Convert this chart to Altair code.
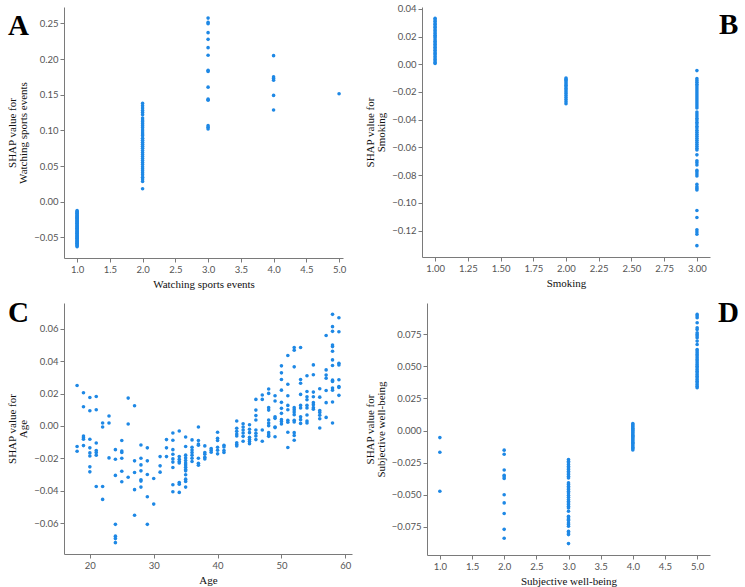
import altair as alt
import pandas as pd

BLUE = "#1E88E5"

# ---- A: Watching sports events (level -> SHAP values) ----
watch_1 = [-0.0126, -0.0138, -0.0151, -0.0161, -0.0172, -0.0186, -0.0197, -0.0208,
           -0.0220, -0.0231, -0.0243, -0.0256, -0.0266, -0.0278, -0.0291, -0.0302,
           -0.0313, -0.0326, -0.0337, -0.0348, -0.0361, -0.0372, -0.0384, -0.0395,
           -0.0408, -0.0419, -0.0431, -0.0442, -0.0455, -0.0466, -0.0477, -0.0490,
           -0.0501, -0.0513, -0.0524, -0.0537, -0.0548, -0.0559, -0.0571, -0.0584,
           -0.0595, -0.0606, -0.0618, -0.0633]
watch_2 = [0.1378, 0.1345, 0.1313, 0.1280, 0.1252, 0.1220, 0.1173, 0.1145, 0.1122,
           0.1094, 0.1066, 0.1038, 0.1005, 0.0978, 0.0950, 0.0926, 0.0889, 0.0861,
           0.0833, 0.0805, 0.0777, 0.0749, 0.0717, 0.0689, 0.0661, 0.0633, 0.0605,
           0.0577, 0.0549, 0.0521, 0.0489, 0.0461, 0.0433, 0.0405, 0.0377, 0.0344,
           0.0317, 0.0284, 0.0182]
watch_3 = [0.2574, 0.2514, 0.2495, 0.2370, 0.2276, 0.2160, 0.2053, 0.1843, 0.1825,
           0.1606, 0.1438, 0.1424, 0.1066, 0.1043, 0.1020]
watch_4 = [0.2048, 0.1750, 0.1727, 0.1704, 0.1490, 0.1285]
watch_5 = [0.1513]

# ---- B: Smoking ----
smoke_1 = [0.0331, 0.0321, 0.0310, 0.0298, 0.0288, 0.0276, 0.0266, 0.0254, 0.0243,
           0.0233, 0.0221, 0.0210, 0.0199, 0.0189, 0.0177, 0.0166, 0.0155, 0.0145,
           0.0133, 0.0122, 0.0111, 0.0101, 0.0089, 0.0078, 0.0068, 0.0056, 0.0045,
           0.0034, 0.0024, 0.0012, 0.0005]
smoke_2 = [-0.0099, -0.0108, -0.0118, -0.0129, -0.0140, -0.0152, -0.0163, -0.0175,
           -0.0186, -0.0199, -0.0212, -0.0226, -0.0240, -0.0255, -0.0270, -0.0285]
smoke_3 = [-0.0046, -0.0104, -0.0118, -0.0130, -0.0145, -0.0157, -0.0171, -0.0186,
           -0.0200, -0.0215, -0.0229, -0.0244, -0.0258, -0.0273, -0.0287, -0.0302,
           -0.0316, -0.0345, -0.0360, -0.0374, -0.0389, -0.0403, -0.0418, -0.0432,
           -0.0447, -0.0461, -0.0476, -0.0490, -0.0505, -0.0519, -0.0534, -0.0548,
           -0.0563, -0.0577, -0.0592, -0.0606, -0.0618, -0.0654, -0.0696, -0.0710,
           -0.0727, -0.0766, -0.0778, -0.0792, -0.0807, -0.0867, -0.0884, -0.0896,
           -0.0908, -0.1055, -0.1106, -0.1195, -0.1210, -0.1227, -0.1309]

# ---- C: Age ----
age_shap = {
    18: [0.0250, -0.0127, -0.0156],
    19: [0.0205, 0.0119, -0.0062, -0.0072, -0.0082, -0.0121],
    20: [0.0176, 0.0094, -0.0082, -0.0135, -0.0166, -0.0185, -0.0252, -0.0283],
    21: [0.0182, 0.0100, -0.0105, -0.0152, -0.0164, -0.0180, -0.0373],
    22: [0.0018, -0.0006, -0.0373, -0.0453],
    23: [0.0062, 0.0018, -0.0197],
    24: [-0.0146, -0.0205, -0.0305, -0.0607, -0.0680, -0.0695, -0.0720],
    25: [-0.0090, -0.0154, -0.0164, -0.0199, -0.0279, -0.0344],
    26: [0.0172, 0.0012, -0.0316],
    27: [0.0125, -0.0215, -0.0287, -0.0393, -0.0551],
    28: [-0.0117, -0.0199, -0.0240, -0.0277, -0.0332, -0.0340, -0.0377],
    29: [-0.0135, -0.0215, -0.0299, -0.0437, -0.0607],
    30: [-0.0324, -0.0482],
    31: [-0.0189, -0.0246, -0.0285],
    32: [-0.0084, -0.0135, -0.0189],
    33: [-0.0043, -0.0088, -0.0146, -0.0174, -0.0203, -0.0223, -0.0256, -0.0363, -0.0406],
    34: [-0.0031, -0.0189, -0.0205, -0.0219, -0.0228, -0.0349, -0.0359, -0.0410],
    35: [-0.0068, -0.0127, -0.0180, -0.0197, -0.0213, -0.0228, -0.0240, -0.0254,
         -0.0269, -0.0277, -0.0301, -0.0328, -0.0342, -0.0377],
    36: [-0.0086, -0.0131, -0.0148, -0.0164, -0.0180, -0.0199, -0.0219],
    37: [-0.0006, -0.0090, -0.0111, -0.0119, -0.0199, -0.0230, -0.0242],
    38: [-0.0123, -0.0164, -0.0174, -0.0193, -0.0203],
    39: [-0.0139, -0.0150, -0.0162],
    40: [-0.0039, -0.0076, -0.0090, -0.0131, -0.0150, -0.0172],
    41: [-0.0119, -0.0129, -0.0152, -0.0164],
    43: [0.0031, -0.0014, -0.0033, -0.0049, -0.0062, -0.0103, -0.0115, -0.0123],
    44: [0.0014, -0.0006, -0.0025, -0.0043, -0.0064, -0.0094],
    45: [0.0008, -0.0020, -0.0041, -0.0070, -0.0084, -0.0096, -0.0109],
    46: [0.0164, 0.0098, 0.0064, 0.0037, -0.0025, -0.0045, -0.0062, -0.0084],
    47: [0.0191, 0.0164, -0.0025, -0.0094],
    48: [0.0228, 0.0201, 0.0113, 0.0098, 0.0037, 0.0018, 0.0002, -0.0041, -0.0055, -0.0064],
    49: [0.0187, 0.0154, 0.0057, 0.0047, -0.0006, -0.0010, -0.0066],
    50: [0.0371, 0.0328, 0.0287, 0.0221, 0.0146, 0.0109, 0.0078, 0.0039, 0.0027, 0.0012],
    51: [0.0435, 0.0258, 0.0187, 0.0127, 0.0100, 0.0035, 0.0023, -0.0039, -0.0133],
    52: [0.0484, 0.0467, 0.0365, 0.0113, 0.0100, 0.0086, 0.0070, 0.0035, 0.0025,
         -0.0041, -0.0059, -0.0088],
    53: [0.0484, 0.0287, 0.0264, 0.0195, 0.0127, 0.0111, 0.0057, 0.0039, 0.0016],
    54: [0.0310, 0.0213, 0.0180, 0.0162, 0.0127, 0.0111, 0.0068, 0.0031, 0.0018],
    55: [0.0377, 0.0316, 0.0209, 0.0180, 0.0144, 0.0131, 0.0113, 0.0103],
    56: [0.0230, 0.0178, 0.0096, 0.0084, 0.0066, 0.0045, -0.0012],
    57: [0.0558, 0.0346, 0.0314, 0.0295, 0.0219, 0.0144, 0.0053],
    58: [0.0689, 0.0613, 0.0584, 0.0500, 0.0490, 0.0461, 0.0408, 0.0373, 0.0283,
         0.0275, 0.0234, 0.0221, 0.0148, 0.0018],
    59: [0.0668, 0.0582, 0.0387, 0.0377, 0.0285, 0.0244, 0.0238, 0.0189],
}

# ---- D: Subjective well-being ----
wellbeing_1 = [-0.0055, -0.0169, -0.0473]
wellbeing_2 = [-0.0153, -0.0185, -0.0307, -0.0348, -0.0361, -0.0374, -0.0500,
               -0.0564, -0.0647, -0.0770, -0.0840]
wellbeing_3 = [-0.0226, -0.0239, -0.0252, -0.0265, -0.0278, -0.0291, -0.0304, -0.0317,
               -0.0330, -0.0343, -0.0356, -0.0369, -0.0408, -0.0421, -0.0434, -0.0447,
               -0.0460, -0.0473, -0.0486, -0.0504, -0.0520, -0.0538, -0.0551, -0.0564,
               -0.0577, -0.0590, -0.0603, -0.0629, -0.0668, -0.0681, -0.0694, -0.0702,
               -0.0720, -0.0733, -0.0746, -0.0785, -0.0798, -0.0811, -0.0881]
wellbeing_4 = [0.0055, 0.0045, 0.0036, 0.0027, 0.0018, 0.0009, 0.0000, -0.0009,
               -0.0018, -0.0027, -0.0036, -0.0045, -0.0055, -0.0064, -0.0073, -0.0082,
               -0.0091, -0.0100, -0.0110, -0.0120, -0.0130, -0.0140, -0.0151]
wellbeing_5 = [0.0905, 0.0892, 0.0879, 0.0840, 0.0801, 0.0788, 0.0762, 0.0749, 0.0736,
               0.0723, 0.0697, 0.0671, 0.0632, 0.0619, 0.0606, 0.0593, 0.0580, 0.0567,
               0.0554, 0.0541, 0.0528, 0.0515, 0.0502, 0.0489, 0.0476, 0.0463, 0.0450,
               0.0437, 0.0424, 0.0411, 0.0398, 0.0385, 0.0372, 0.0359, 0.0346, 0.0333]


def to_frame(groups):
    rows = [{"x": k, "y": v} for k, vals in groups.items() for v in vals]
    return pd.DataFrame(rows)


df_a = to_frame({1: watch_1, 2: watch_2, 3: watch_3, 4: watch_4, 5: watch_5})
df_b = to_frame({1: smoke_1, 2: smoke_2, 3: smoke_3})
df_c = to_frame(age_shap)
df_d = to_frame({1: wellbeing_1, 2: wellbeing_2, 3: wellbeing_3,
                 4: wellbeing_4, 5: wellbeing_5})


def panel(df, xtitle, ytitle, xdom, ydom, xticks, xfmt, yticks, yfmt,
          w, h, letter, lx, ly):
    dots = alt.Chart(df).mark_circle(size=13, color=BLUE, opacity=1).encode(
        x=alt.X("x:Q", scale=alt.Scale(domain=xdom, nice=False, zero=False),
                axis=alt.Axis(values=xticks, format=xfmt, title=xtitle)),
        y=alt.Y("y:Q", scale=alt.Scale(domain=ydom, nice=False, zero=False),
                axis=alt.Axis(values=yticks, format=yfmt, title=ytitle)),
    )
    tag = alt.Chart(pd.DataFrame({"t": [letter]})).mark_text(
        font="Liberation Serif", fontWeight="bold", fontSize=29,
        align="left", baseline="alphabetic", color="black",
    ).encode(text="t:N", x=alt.value(lx), y=alt.value(ly))
    return alt.layer(dots, tag).properties(width=w, height=h)


pa = panel(df_a, "Watching sports events", ["SHAP value for", "Watching sports events"],
           [0.8, 5.06], [-0.079, 0.273], [1.0, 1.5, 2.0, 2.5, 3.0, 3.5, 4.0, 4.5, 5.0], ".1f",
           [-0.05, 0.0, 0.05, 0.10, 0.15, 0.20, 0.25], ".2f", 279, 251, "A", -56, 28)
pb = panel(df_b, "Smoking", ["SHAP value for", "Smoking"],
           [0.9, 3.1], [-0.1391, 0.0413],
           [1.0, 1.25, 1.5, 1.75, 2.0, 2.25, 2.5, 2.75, 3.0], ".2f",
           [-0.12, -0.10, -0.08, -0.06, -0.04, -0.02, 0.0, 0.02, 0.04], ".2f",
           288, 250, "B", 297, 27)
pc = panel(df_c, "Age", ["SHAP value for", "Age"],
           [15.95, 61.05], [-0.079, 0.0759], [20, 30, 40, 50, 60], "d",
           [-0.06, -0.04, -0.02, 0.0, 0.02, 0.04, 0.06], ".2f",
           288, 251, "C", -56, 19)
pd_ = panel(df_d, "Subjective well-being", ["SHAP value for", "Subjective well-being"],
            [0.8, 5.2], [-0.097, 0.0994], [1.0, 1.5, 2.0, 2.5, 3.0, 3.5, 4.0, 4.5, 5.0], ".1f",
            [-0.075, -0.05, -0.025, 0.0, 0.025, 0.05, 0.075], ".3f",
            283, 252, "D", 291, 19)

top = alt.hconcat(pa, pb, spacing=18)
bottom = alt.hconcat(pc, pd_, spacing=12)

chart = alt.vconcat(top, bottom, spacing=9).properties(
    padding={"left": 6, "top": 3, "right": 0, "bottom": 0}
).configure_view(stroke=None).configure_axis(
    grid=False,
    domainColor="#7a7a7a",
    tickColor="#7a7a7a",
    tickSize=4,
    labelFont="Lato",
    labelFontSize=9.5,
    labelColor="#555555",
    titleFont="Liberation Serif",
    titleFontSize=11,
    titleLineHeight=11,
    titleFontWeight="normal",
    titleColor="#111111",
    labelPadding=2,
    titlePadding=5,
)

chart.save("out.html", embed_options={"renderer": "svg", "actions": False})
